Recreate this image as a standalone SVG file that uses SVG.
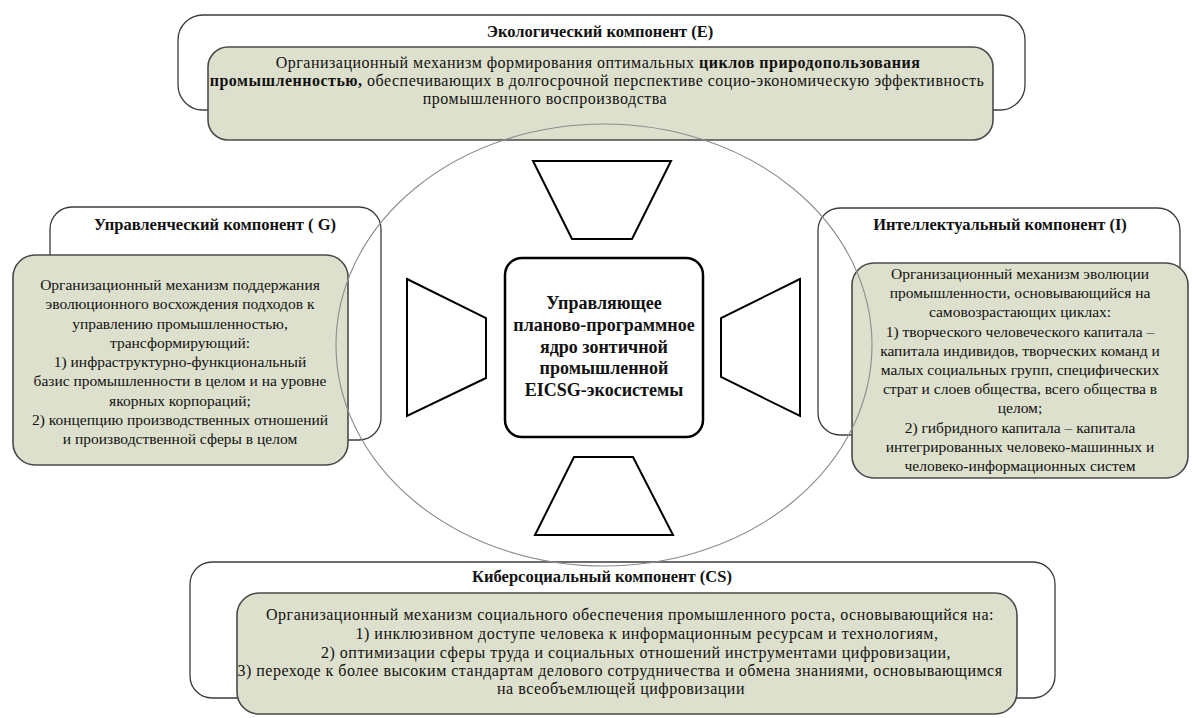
<svg xmlns="http://www.w3.org/2000/svg" width="1192" height="718" viewBox="0 0 1192 718">
  <style>
    .outer { fill: #ffffff; stroke: #3c3c3c; stroke-width: 1.3; }
    .inner { fill: #dde0cc; stroke: #4a4a4a; stroke-width: 1.6; }
    .title { font-family: "Liberation Serif", "Times New Roman", serif; font-size: 16.5px; font-weight: bold; fill: #111; text-anchor: middle; }
    .body { font-family: "Liberation Serif", "Times New Roman", serif; font-size: 15.5px; fill: #111; text-anchor: middle; }
    .wide { font-size: 16px; letter-spacing: 0.5px; }
    .b { font-weight: bold; }
    .core { font-family: "Liberation Serif", "Times New Roman", serif; font-size: 18px; font-weight: bold; fill: #111; text-anchor: middle; }
    .trap { fill: #ffffff; stroke: #000; stroke-width: 2; stroke-linejoin: miter; }
    .orbit { fill: none; stroke: #8c8c8c; stroke-width: 1.1; }
  </style>

  <!-- Ecological component (top) -->
  <g id="node-ecological">
    <rect class="outer" x="178" y="15" width="847" height="95" rx="25"/>
    <text class="title" x="600" y="37">Экологический компонент (Е)</text>
    <rect class="inner" x="208" y="47" width="785" height="93" rx="20"/>
    <text class="body wide" x="598" y="68">Организационный механизм формирования оптимальных <tspan class="b">циклов природопользования</tspan></text>
    <text class="body wide" x="597" y="86"><tspan class="b">промышленностью,</tspan>  обеспечивающих в долгосрочной перспективе социо-экономическую эффективность</text>
    <text class="body wide" x="545" y="104">промышленного воспроизводства</text>
  </g>

  <!-- Management component (left) -->
  <g id="node-management">
    <rect class="outer" x="50" y="207" width="331" height="233" rx="22"/>
    <text class="title" x="215" y="230">Управленческий компонент ( G)</text>
    <rect class="inner" x="13" y="255" width="335" height="210" rx="22"/>
    <text class="body" x="180" y="290">Организационный механизм поддержания</text>
    <text class="body" x="180" y="309">эволюционного восхождения подходов к</text>
    <text class="body" x="180" y="329">управлению промышленностью,</text>
    <text class="body" x="180" y="348">трансформирующий:</text>
    <text class="body" x="180" y="367">1) инфраструктурно-функциональный</text>
    <text class="body" x="180" y="386">базис промышленности в целом и на уровне</text>
    <text class="body" x="180" y="406">якорных корпораций;</text>
    <text class="body" x="180" y="425">2) концепцию производственных отношений</text>
    <text class="body" x="180" y="444">и производственной сферы в целом</text>
  </g>

  <!-- Intellectual component (right) -->
  <g id="node-intellectual">
    <rect class="outer" x="818" y="208" width="362" height="227" rx="22"/>
    <text class="title" x="1000" y="230">Интеллектуальный компонент (I)</text>
    <rect class="inner" x="852" y="263" width="336" height="215" rx="22"/>
    <text class="body" x="1020" y="279">Организационный механизм эволюции</text>
    <text class="body" x="1020" y="298">промышленности, основывающийся на</text>
    <text class="body" x="1020" y="317">самовозрастающих циклах:</text>
    <text class="body" x="1020" y="337">1) творческого человеческого капитала –</text>
    <text class="body" x="1020" y="356">капитала индивидов, творческих команд и</text>
    <text class="body" x="1020" y="375">малых социальных групп, специфических</text>
    <text class="body" x="1020" y="394">страт и слоев общества, всего общества в</text>
    <text class="body" x="1020" y="413">целом;</text>
    <text class="body" x="1020" y="433">2) гибридного капитала – капитала</text>
    <text class="body" x="1020" y="452">интегрированных человеко-машинных и</text>
    <text class="body" x="1020" y="471">человеко-информационных систем</text>
  </g>

  <!-- Cyber-social component (bottom) -->
  <g id="node-cybersocial">
    <rect class="outer" x="190" y="562" width="865" height="136" rx="22"/>
    <text class="title" x="602" y="582">Киберсоциальный компонент (CS)</text>
    <rect class="inner" x="237" y="593" width="780" height="121" rx="22"/>
    <text class="body wide" x="630" y="620">Организационный механизм социального обеспечения промышленного роста, основывающийся на:</text>
    <text class="body wide" x="647" y="639">1) инклюзивном доступе человека к информационным ресурсам и технологиям,</text>
    <text class="body wide" x="636" y="658">2) оптимизации сферы труда и социальных отношений инструментами цифровизации,</text>
    <text class="body wide" x="620" y="676">3) переходе к более высоким стандартам  делового сотрудничества и обмена знаниями, основывающимся</text>
    <text class="body wide" x="621" y="694">на всеобъемлющей цифровизации</text>
  </g>

  <!-- Umbrella ring around the core -->
  <ellipse class="orbit" cx="604" cy="345" rx="268" ry="221"/>

  <!-- Four inward-facing channels -->
  <g id="connectors">
    <polygon class="trap" points="533,161 671,161 632,239 572,239"/>
    <polygon class="trap" points="407,279 486,318 486,378 407,416"/>
    <polygon class="trap" points="800,279 721,318 721,377 800,416"/>
    <polygon class="trap" points="574,457 633,457 673,535 535,535"/>
  </g>

  <!-- Core -->
  <g id="node-core">
    <rect x="505" y="258" width="198" height="179" rx="17" fill="#ffffff" stroke="#000" stroke-width="2.5"/>
    <text class="core" x="604" y="309">Управляющее</text>
    <text class="core" x="604" y="331">планово-программное</text>
    <text class="core" x="604" y="353">ядро зонтичной</text>
    <text class="core" x="604" y="374">промышленной</text>
    <text class="core" x="604" y="396">EICSG-экосистемы</text>
  </g>
</svg>
